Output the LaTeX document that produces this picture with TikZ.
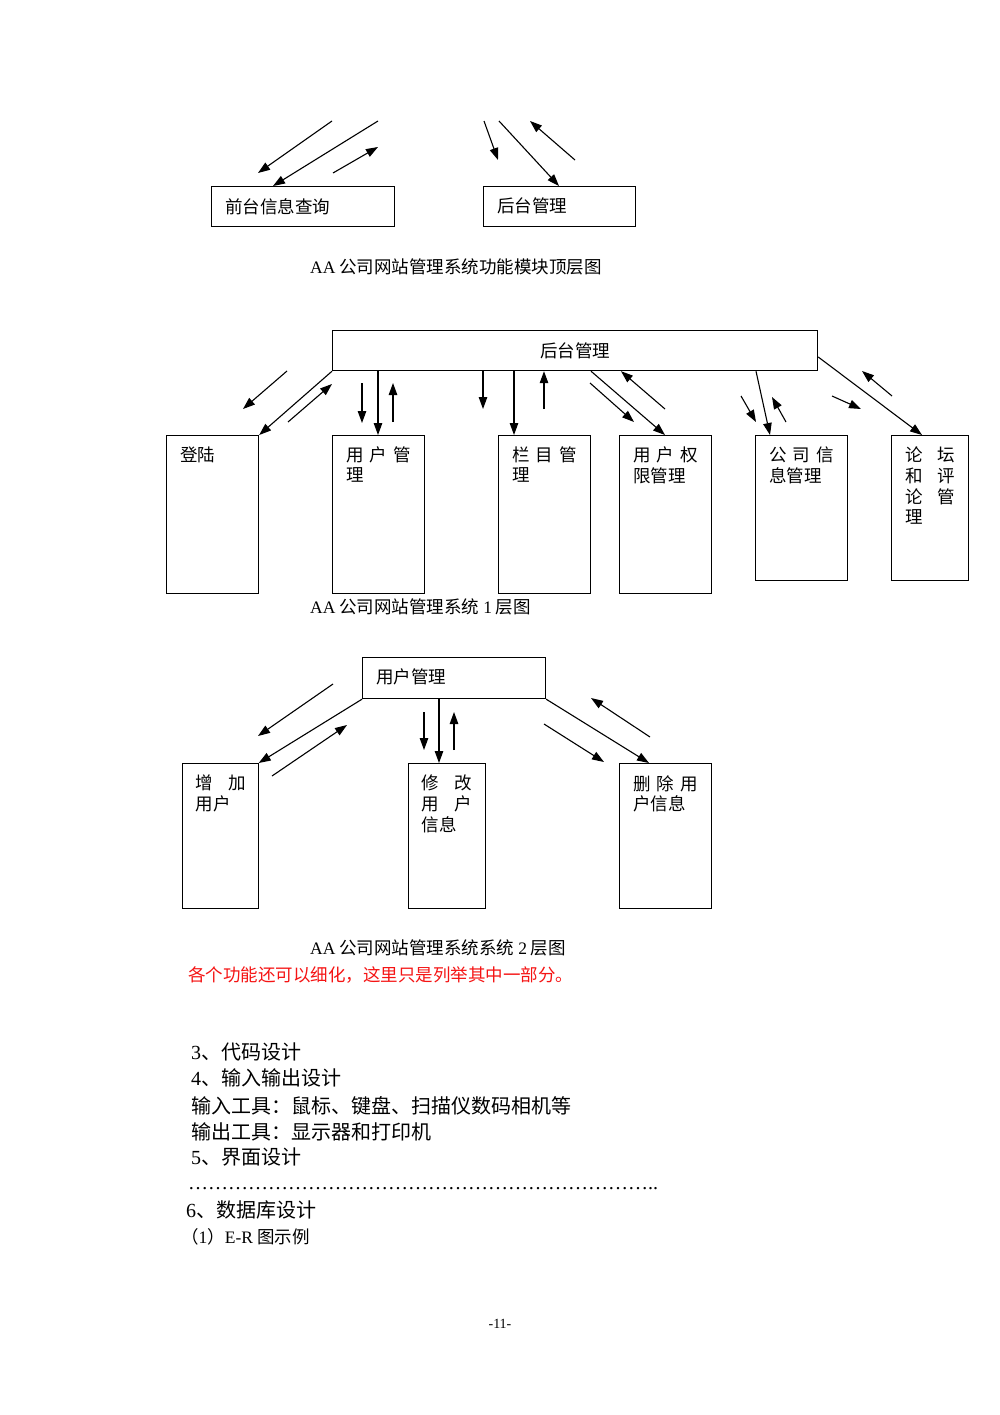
\documentclass[tikz,border=0pt]{standalone}
\usepackage{fontspec}
\setmainfont{Noto Sans CJK SC}
\newfontfamily\lat{Liberation Serif}
\usetikzlibrary{arrows.meta}
\definecolor{redtxt}{RGB}{245,20,20}
\newcommand\bt[3]{\parbox[c][#2pt][t]{#1pt}{\vspace*{11.6pt}\hspace*{13.5pt}\begin{tabular}[t]{@{}l@{}}#3\end{tabular}}}
\newcommand\spr[2]{\makebox[#1pt][l]{#2}}
\newcommand\dd{…}
\newcommand\ddfive{\dd\dd\dd\dd\dd}
\tikzset{
  rbox/.style={draw, line width=1.2pt, inner sep=0pt, anchor=north west, font=\fontsize{17.5}{20}\selectfont},
  arr/.style={line width=1.1pt, -{Triangle[length=12pt,width=8.5pt]}},
  captxt/.style={anchor=base west, inner sep=0pt, font=\fontsize{17.5}{20}\selectfont},
  bodytxt/.style={anchor=base west, inner sep=0pt, font=\fontsize{20}{26}\selectfont},
}
\begin{document}
\begin{tikzpicture}[x=1pt,y=-1pt]
\useasboundingbox[fill=white] (0,0) rectangle (1000,1415);

% ---------------- Diagram 1 ----------------
\node[rbox] (A1) at (211,186) {\bt{183}{40}{前台信息查询}};
\node[rbox] (A2) at (483,186) {\bt{152}{40}{后台管理}};
\coordinate (p1s) at (332,121); \coordinate (p1e) at (258,173);
\coordinate (p2s) at (378,121);
\coordinate (p3s) at (333,173); \coordinate (p3e) at (378,147);
\coordinate (p4s) at (484,121); \coordinate (p4e) at (498,160);
\coordinate (p5s) at (499,121);
\coordinate (p6s) at (575,160); \coordinate (p6e) at (530,121);
\draw[arr] (p1s) -- (p1e);
\draw[arr] (p2s) -- (273,0 |- A1.north);
\draw[arr] (p3s) -- (p3e);
\draw[arr] (p4s) -- (p4e);
\draw[arr] (p5s) -- (559,0 |- A2.north);
\draw[arr] (p6s) -- (p6e);
\node[captxt] (cap1) at (310,273) {{\lat AA} 公司网站管理系统功能模块顶层图};

% ---------------- Diagram 2 ----------------
\node[rbox, minimum width=485pt, minimum height=40pt] (B0) at (332,330) {后台管理};
\node[rbox] (B1) at (166,435) {\bt{92}{158}{登陆}};
\node[rbox] (B2) at (332,435) {\bt{92}{158}{\spr{65}{用\hfill 户\hfill 管}\\理}};
\node[rbox] (B3) at (498,435) {\bt{92}{158}{\spr{65}{栏\hfill 目\hfill 管}\\理}};
\node[rbox] (B4) at (619,435) {\bt{92}{158}{\spr{65}{用\hfill 户\hfill 权}\\限管理}};
\node[rbox] (B5) at (755,435) {\bt{92}{145}{\spr{65}{公\hfill 司\hfill 信}\\息管理}};
\node[rbox] (B6) at (891,435) {\bt{77}{145}{\spr{50}{论\hfill 坛}\\\spr{50}{和\hfill 评}\\\spr{50}{论\hfill 管}\\理}};

\coordinate (a1s) at (287,371); \coordinate (a1e) at (243,409);
\coordinate (a3s) at (288,422); \coordinate (a3e) at (332,384);
\coordinate (a4s) at (362,383); \coordinate (a4e) at (362,423);
\coordinate (a6s) at (393,422); \coordinate (a6e) at (393,383);
\coordinate (a7e) at (483,409);
\coordinate (a9s) at (544,409);
\coordinate (b1s) at (590,383); \coordinate (b1e) at (634,422);
\coordinate (b3s) at (665,409);
\coordinate (b4s) at (741,396); \coordinate (b4e) at (756,422);
\coordinate (b6s) at (786,422); \coordinate (b6e) at (772,397);
\coordinate (b7s) at (832,396); \coordinate (b7e) at (861,409);
\coordinate (b9s) at (892,396); \coordinate (b9e) at (862,371);

\draw[arr] (a1s) -- (a1e);
\draw[arr] (B0.south west) -- (B1.north east);
\draw[arr] (a3s) -- (a3e);
\draw[arr] (a4s) -- (a4e);
\draw[arr] (378,0 |- B0.south) -- (378,0 |- B2.north);
\draw[arr] (a6s) -- (a6e);
\draw[arr] (483,0 |- B0.south) -- (a7e);
\draw[arr] (514,0 |- B0.south) -- (514,0 |- B3.north);
\draw[arr] (a9s) -- (544,0 |- B0.south);
\draw[arr] (b1s) -- (b1e);
\draw[arr] (591,0 |- B0.south) -- (665,0 |- B4.north);
\draw[arr] (b3s) -- (621,0 |- B0.south);
\draw[arr] (b4s) -- (b4e);
\draw[arr] (756,0 |- B0.south) -- (770,0 |- B5.north);
\draw[arr] (b6s) -- (b6e);
\draw[arr] (b7s) -- (b7e);
\draw[arr] (B0.east |- 0,357) -- (922,0 |- B6.north);
\draw[arr] (b9s) -- (b9e);
\node[captxt] (cap2) at (310,613) {{\lat AA} 公司网站管理系统 {\lat 1} 层图};

% ---------------- Diagram 3 ----------------
\node[rbox] (C0) at (362,657) {\bt{183}{41}{用户管理}};
\node[rbox] (C1) at (181.5,763) {\bt{76}{145}{\spr{50}{增\hfill 加}\\用户}};
\node[rbox] (C2) at (407.5,763) {\bt{77}{145}{\spr{50}{修\hfill 改}\\\spr{50}{用\hfill 户}\\信息}};
\node[rbox] (C3) at (619,763) {\bt{92}{145}{\spr{65}{删\hfill 除\hfill 用}\\户信息}};

\coordinate (c1s) at (333,684); \coordinate (c1e) at (258,736);
\coordinate (c3s) at (272,776); \coordinate (c3e) at (347,725);
\coordinate (c4s) at (424,712); \coordinate (c4e) at (424,750);
\coordinate (c6s) at (454,750); \coordinate (c6e) at (454,712);
\coordinate (d2s) at (544,724); \coordinate (d2e) at (604,762);
\coordinate (d3s) at (650,737); \coordinate (d3e) at (591,698);

\draw[arr] (c1s) -- (c1e);
\draw[arr] (C0.south west) -- (C1.north east);
\draw[arr] (c3s) -- (c3e);
\draw[arr] (c4s) -- (c4e);
\draw[arr] (439,0 |- C0.south) -- (439,0 |- C2.north);
\draw[arr] (c6s) -- (c6e);
\draw[arr] (C0.south east) -- (649,0 |- C3.north);
\draw[arr] (d2s) -- (d2e);
\draw[arr] (d3s) -- (d3e);
\node[captxt] (cap3) at (310,954) {{\lat AA} 公司网站管理系统系统 {\lat 2} 层图};
\node[captxt, text=redtxt] (note) at (188,981.7) {各个功能还可以细化，这里只是列举其中一部分。};

% ---------------- Body text ----------------
\node[bodytxt] (l3) at (191,1059.6) {{\lat 3}、代码设计};
\node[bodytxt] (l4) at (191,1085.6) {{\lat 4}、输入输出设计};
\node[bodytxt] (l4a) at (191,1113) {输入工具：鼠标、键盘、扫描仪数码相机等};
\node[bodytxt] (l4b) at (191,1139) {输出工具：显示器和打印机};
\node[bodytxt] (l5) at (191,1164.6) {{\lat 5}、界面设计};
\node[bodytxt] (dots) at (188,1189) {\lat \ddfive\ddfive\ddfive\ddfive\dd\dd\dd..};
\node[bodytxt] (l6) at (186,1217.6) {{\lat 6}、数据库设计};
\node[captxt] (l6a) at (181,1243.6) {（{\lat 1}）{\lat E-R} 图示例};
\node[anchor=center, inner sep=0pt, font=\lat\fontsize{14}{16}\selectfont] (pg) at (500,1324) {-11-};
\end{tikzpicture}
\end{document}
